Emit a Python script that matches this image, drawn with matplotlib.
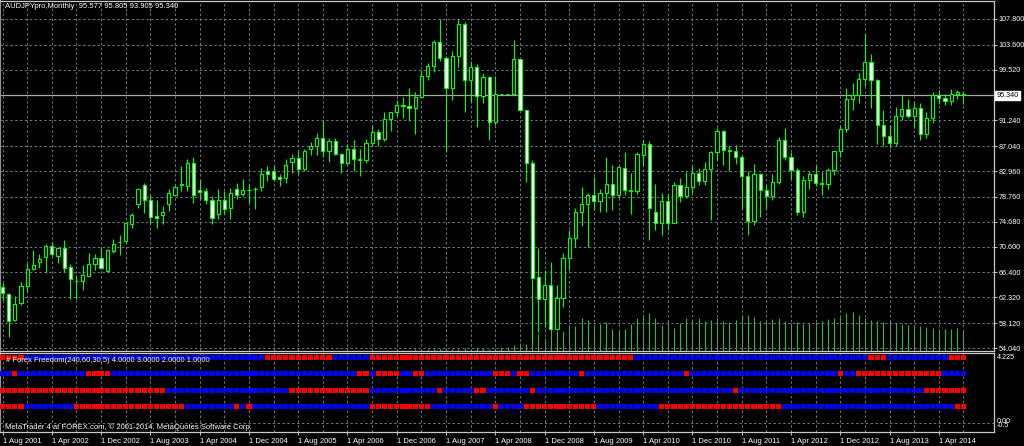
import matplotlib
matplotlib.use("Agg")
import matplotlib.pyplot as plt
import numpy as np

plt.rcParams['font.family'] = ['Liberation Sans', 'DejaVu Sans']

# ---- data (monthly AUDJPY bars, Aug 2001 .. Aug 2014), 10 bars per line ----
opens = [64.06, 62.8, 58.6, 61.4, 64.2, 66.95, 68.1, 68.9, 70.7, 69.0,
         70.3, 67.2, 65.0, 65.0, 65.8, 67.7, 68.7, 66.6, 69.95, 71.4,
         71.6, 74.35, 77.6, 80.6, 78.2, 75.6, 75.8, 77.5, 79.1, 80.75,
         80.5, 84.2, 79.84, 79.7, 78.3, 75.9, 78.2, 76.96, 79.95, 79.2,
         79.84, 80.05, 80.4, 82.9, 82.9, 82.0, 81.85, 84.4, 85.1, 83.3,
         86.5, 87.0, 88.36, 86.3, 87.9, 85.8, 84.2, 86.6, 85.0, 84.8,
         87.6, 89.4, 88.2, 91.5, 92.6, 93.8, 93.6, 93.2, 95.1, 98.5,
         100.1, 104.0, 101.4, 96.5, 101.8, 107.0, 97.8, 100.0, 95.2, 98.3,
         91.0, 95.5, 95.5, 95.49, 101.2, 92.93, 84.2, 65.7, 62.0, 64.3,
         57.1, 62.15, 68.7, 71.96, 76.3, 77.6, 79.1, 78.1, 79.3, 80.8,
         79.0, 83.4, 79.75, 79.7, 85.6, 87.4, 76.3, 74.5, 78.1, 74.5,
         80.7, 78.9, 80.3, 82.6, 81.4, 83.3, 86.0, 89.5, 86.4, 86.3,
         85.2, 82.1, 74.8, 82.5, 79.9, 78.8, 81.2, 88.0, 85.3, 83.2,
         76.3, 81.5, 82.4, 81.0, 80.9, 83.1, 86.2, 89.9, 94.8, 95.3,
         98.0, 100.8, 97.8, 90.5, 88.7, 87.5, 91.9, 93.1, 92.0, 93.3,
         89.0, 91.7, 95.4, 94.9, 94.4, 95.5, 95.577]
highs = [64.6, 63.1, 62.6, 64.9, 67.9, 70.0, 69.4, 71.0, 71.4, 70.5,
         71.7, 67.7, 66.0, 67.6, 69.6, 69.4, 70.5, 70.2, 71.9, 72.5,
         74.7, 76.15, 80.2, 81.0, 79.0, 78.3, 77.3, 79.95, 80.6, 83.75,
         84.9, 85.3, 81.57, 80.2, 78.9, 79.95, 79.7, 80.2, 81.0, 81.6,
         80.8, 80.4, 83.5, 83.75, 83.75, 82.4, 84.9, 85.8, 86.3, 86.5,
         87.7, 89.2, 91.2, 88.3, 88.4, 85.9, 87.3, 88.0, 86.6, 88.2,
         90.4, 89.8, 92.6, 92.6, 94.6, 95.0, 96.6, 95.8, 99.4, 100.6,
         104.4, 107.8, 101.8, 102.6, 107.8, 107.3, 101.0, 100.5, 99.0, 98.5,
         98.5, 95.5, 95.5, 104.4, 101.2, 92.93, 84.8, 70.3, 66.8, 68.1,
         64.3, 69.5, 73.3, 76.9, 80.4, 79.3, 82.0, 80.1, 85.3, 83.9,
         83.8, 86.1, 82.7, 86.0, 88.0, 87.8, 80.8, 79.3, 79.2, 81.2,
         81.8, 82.85, 83.7, 83.4, 84.4, 86.3, 90.0, 89.6, 87.0, 87.2,
         85.5, 83.0, 84.1, 82.6, 80.6, 82.4, 88.5, 90.0, 86.1, 83.5,
         82.2, 83.0, 84.0, 82.8, 83.5, 86.3, 90.5, 96.6, 97.3, 99.0,
         105.4, 102.0, 98.0, 93.0, 90.5, 93.4, 95.6, 94.8, 94.2, 94.1,
         92.6, 95.8, 96.2, 95.6, 96.3, 96.2, 95.805]
lows = [61.9, 55.9, 58.4, 61.0, 63.2, 66.8, 67.1, 66.25, 69.0, 68.0,
        66.5, 62.1, 62.1, 63.5, 65.7, 66.8, 66.9, 66.5, 69.6, 69.2,
        71.2, 73.7, 76.96, 76.15, 74.25, 73.7, 74.25, 76.4, 78.9, 79.7,
        79.7, 77.8, 78.3, 77.5, 74.25, 75.06, 75.9, 75.06, 78.4, 78.8,
        77.8, 76.8, 79.7, 81.3, 81.3, 80.5, 81.0, 82.66, 82.55, 82.9,
        85.5, 85.6, 85.2, 84.5, 85.6, 82.6, 83.9, 83.0, 82.2, 84.2,
        87.0, 87.1, 87.9, 89.5, 91.9, 91.6, 91.2, 89.0, 95.0, 97.8,
        99.2, 101.0, 86.0, 94.5, 100.0, 92.6, 94.2, 90.2, 94.0, 88.0,
        90.5, 95.5, 95.5, 95.49, 92.9, 81.2, 55.1, 56.7, 57.5, 56.9,
        57.0, 60.8, 66.8, 70.6, 73.9, 70.6, 76.6, 76.3, 76.3, 76.6,
        78.6, 79.0, 76.0, 79.2, 83.7, 71.7, 73.4, 72.5, 73.3, 74.4,
        77.9, 78.5, 79.3, 80.7, 80.6, 75.0, 84.8, 84.0, 83.0, 84.1,
        76.8, 72.5, 74.2, 75.5, 76.8, 78.2, 80.8, 84.8, 81.6, 75.8,
        75.4, 80.0, 80.5, 79.0, 80.0, 82.3, 85.3, 89.4, 93.0, 94.0,
        96.8, 93.3, 87.4, 87.1, 86.8, 87.0, 91.3, 91.6, 90.0, 88.1,
        88.4, 90.8, 93.9, 93.8, 93.7, 94.8, 93.905]
closes = [63.1, 58.5, 61.3, 64.2, 66.95, 67.6, 68.6, 70.75, 69.4, 70.3,
          67.1, 65.3, 65.0, 65.9, 67.7, 68.7, 67.1, 70.05, 71.0, 71.4,
          74.5, 75.71, 79.95, 78.15, 75.5, 75.3, 76.2, 79.4, 80.4, 80.85,
          84.3, 78.97, 79.5, 78.3, 75.3, 78.3, 76.7, 79.3, 78.97, 79.8,
          79.86, 80.07, 82.55, 82.55, 81.6, 81.7, 84.0, 85.1, 83.3, 86.2,
          87.0, 88.36, 86.3, 87.9, 85.8, 84.2, 86.6, 85.0, 84.8, 87.6,
          89.4, 88.2, 91.5, 92.6, 93.8, 93.6, 93.2, 95.1, 98.5, 100.1,
          104.0, 101.4, 96.5, 101.8, 107.0, 97.8, 100.0, 95.2, 98.3, 91.0,
          95.5, 95.5, 95.49, 101.2, 92.93, 84.2, 65.4, 62.0, 64.3, 57.1,
          62.15, 68.7, 71.96, 76.3, 77.6, 79.0, 78.1, 79.3, 80.8, 79.0,
          83.6, 79.9, 79.8, 85.7, 87.4, 76.9, 74.5, 78.1, 74.5, 80.7,
          78.9, 80.3, 82.6, 81.4, 83.3, 86.0, 89.5, 86.4, 86.3, 85.2,
          82.1, 74.8, 82.5, 79.9, 78.8, 81.2, 88.0, 85.3, 83.2, 76.3,
          81.5, 82.4, 81.0, 80.9, 83.1, 86.2, 89.9, 94.8, 95.3, 98.0,
          100.8, 97.8, 90.5, 88.7, 87.5, 91.9, 93.1, 92.0, 93.3, 89.0,
          91.7, 95.4, 94.9, 94.4, 95.5, 95.8, 95.34]
# tick volume (the broker history only has it from 2007 on)
volumes = ([0] * 64
           + [1, 1, 1, 2, 1, 2, 2, 2, 3, 2, 2, 3, 2, 3, 3, 2, 3, 4, 4, 6]
           + [8, 7, 17, 17, 13, 26, 20, 20, 25, 25, 33, 31, 27, 27, 29,
              22, 20, 22, 27, 33, 35, 38, 33, 26, 30, 23, 28, 33, 32, 33]
           + [30, 31, 33, 30, 29, 31, 35, 36, 34, 30, 31, 32, 33, 30, 28,
              29, 27, 28, 29, 30, 32, 33, 34, 38, 39, 36, 33, 31, 30, 29,
              30, 28, 27, 26, 26, 25, 24, 23, 22, 22, 22, 23, 21])

# Forex Freedom signal rows (R = red, B = blue), run lengths
row4_runs = [("R", 4), ("B", 39), ("R", 11), ("B", 6), ("R", 43), ("B", 38),
             ("R", 3), ("B", 10), ("R", 3)]
row3_runs = [("B", 2), ("R", 1), ("B", 11), ("R", 4), ("B", 40), ("R", 2),
             ("B", 1), ("R", 4), ("B", 2), ("R", 2), ("B", 11), ("R", 3),
             ("B", 1), ("R", 2), ("B", 8), ("R", 1), ("B", 16), ("R", 1),
             ("B", 24), ("R", 1), ("B", 2), ("R", 14), ("B", 4)]
row2_runs = [("R", 27), ("B", 20), ("R", 13), ("B", 11), ("R", 1), ("B", 5),
             ("R", 2), ("B", 7), ("R", 1), ("B", 32), ("R", 1), ("B", 30),
             ("R", 7)]
row1_runs = [("R", 4), ("B", 8), ("R", 18), ("B", 8), ("R", 1), ("B", 1),
             ("R", 1), ("B", 19), ("R", 10), ("B", 10), ("R", 1), ("B", 4),
             ("R", 12), ("B", 10), ("R", 20), ("B", 28), ("R", 2)]

price_levels = [107.800, 103.600, 99.520, 91.240, 87.040, 82.960, 78.760,
                74.680, 70.600, 66.400, 62.320, 58.120, 54.040]
date_labels = ["1 Aug 2001", "1 Apr 2002", "1 Dec 2002", "1 Aug 2003",
               "1 Apr 2004", "1 Dec 2004", "1 Aug 2005", "1 Apr 2006",
               "1 Dec 2006", "1 Aug 2007", "1 Apr 2008", "1 Dec 2008",
               "1 Aug 2009", "1 Apr 2010", "1 Dec 2010", "1 Aug 2011",
               "1 Apr 2012", "1 Dec 2012", "1 Aug 2013", "1 Apr 2014"]
bid = 95.340
title = "AUDJPYpro,Monthly  95.577 95.805 93.905 95.340"
ind_title = "# Forex Freedom(240,60,30,5) 4.0000 3.0000 2.0000 1.0000"
footer = "MetaTrader 4 at FOREX.com, \u00a9 2001-2014, MetaQuotes Software Corp."

# ---- figure ----
W, H = 1024, 446
fig = plt.figure(figsize=(W / 100, H / 100), dpi=100, facecolor="black")

def fx(px):
    return px / W

def fy(py):
    return 1 - py / H

FRAME = "#c8c8c8"
GRID = "#6c7a88"
LIME = "#00ff00"
TXT = 5.5
YTXT = 5.2
DASH = (0, (2.5, 2.5))

ax = fig.add_axes([0, fy(351), fx(994), (351 - 1) / H], facecolor="black")
axi = fig.add_axes([0, fy(432), fx(994), (432 - 353) / H], facecolor="black")

n = len(closes)
x = np.arange(n)
for a in (ax, axi):
    a.set_xlim(-0.41, 160.96)
    for s in a.spines.values():
        s.set_color(FRAME)
        s.set_linewidth(0.9)
    a.spines["left"].set_color("#909090")
    a.spines["left"].set_linewidth(1.6)
    for k in range(0, n, 4):
        a.axvline(k, color=GRID, lw=0.7, ls=DASH, zorder=0)

ax.set_ylim(107.8 - (351 - 19) * 0.1634, 107.8 + 18 * 0.1634)
axi.set_ylim(-0.53, 4.26)

for lv in price_levels + [95.42]:
    ax.axhline(lv, color=GRID, lw=0.7, ls=DASH, zorder=0)
axi.axhline(0, color=GRID, lw=0.7, ls=DASH, zorder=0)

# volumes on a hidden twin axis at the bottom of the price window
axv = ax.twinx()
axv.set_ylim(0, max(volumes) * 350 / 39.0)
axv.set_axis_off()
axv.vlines(x, 0, volumes, color="#2cbc2c", lw=0.8, zorder=1)
ax.set_zorder(axv.get_zorder() + 1)
ax.patch.set_visible(False)
axv.patch.set_visible(False)

# bid line
ax.axhline(bid, color="#a8a8a8", lw=0.9, zorder=1)

# candles: hollow = up month, white = down month
o = np.array(opens); h = np.array(highs); l = np.array(lows); c = np.array(closes)
ax.vlines(x, l, h, color=LIME, lw=0.8, zorder=2)
up = c >= o
body_lo = np.minimum(o, c)
body_h = np.abs(c - o)
ax.bar(x[up], body_h[up], bottom=body_lo[up], width=0.52, color="black",
       edgecolor=LIME, linewidth=0.8, zorder=3)
ax.bar(x[~up], body_h[~up], bottom=body_lo[~up], width=0.52, color="white",
       edgecolor=LIME, linewidth=0.8, zorder=3)

ax.set_xticks([])
ax.yaxis.tick_right()
ax.set_yticks(price_levels)
ax.set_yticklabels([f"{v:.3f}" for v in price_levels])
ax.tick_params(axis="y", colors=FRAME, labelcolor="white", labelsize=YTXT,
               length=2.2, width=0.7, pad=1.0)

# indicator squares
def expand(runs):
    out = []
    for col, cnt in runs:
        out += [col] * cnt
    return out

cmap = {"R": "#ff0000", "B": "#0000ff"}
for val, runs in ((4, row4_runs), (3, row3_runs), (2, row2_runs), (1, row1_runs)):
    cols = [cmap[k] for k in expand(runs)]
    axi.scatter(x[:len(cols)], [val] * len(cols), marker="s", s=14, c=cols,
                linewidths=0, zorder=3)

axi.set_yticks([])
axi.set_xticks(np.arange(0, 8 * len(date_labels), 8))
axi.set_xticklabels(date_labels, ha="left")
axi.tick_params(axis="x", colors=FRAME, labelcolor="white", labelsize=TXT,
                length=2.5, width=0.7, pad=1.5)

# texts
fig.text(fx(5), fy(7), title, color="white", fontsize=TXT, va="center")
fig.text(fx(6), fy(360), ind_title, color="white", fontsize=TXT, va="center",
         zorder=10)
fig.text(fx(5), fy(427), footer, color="white", fontsize=TXT, va="center")
fig.text(fx(997), fy(357.5), "4.225", color="white", fontsize=YTXT, va="center")
fig.text(fx(997), fy(421.5), "0.00", color="white", fontsize=YTXT, va="center")
fig.text(fx(997), fy(425.5), "-0.5", color="white", fontsize=YTXT, va="center")

# bid price box
yb = ax.transData.transform((0, bid))[1]
fig.text(fx(996.5), yb / H, f"{bid:.3f}", color="black", fontsize=YTXT,
         va="center", ha="left",
         bbox=dict(boxstyle="square,pad=0.15", fc="white", ec="white"))

fig.savefig("out.png", dpi=100, facecolor="black")
